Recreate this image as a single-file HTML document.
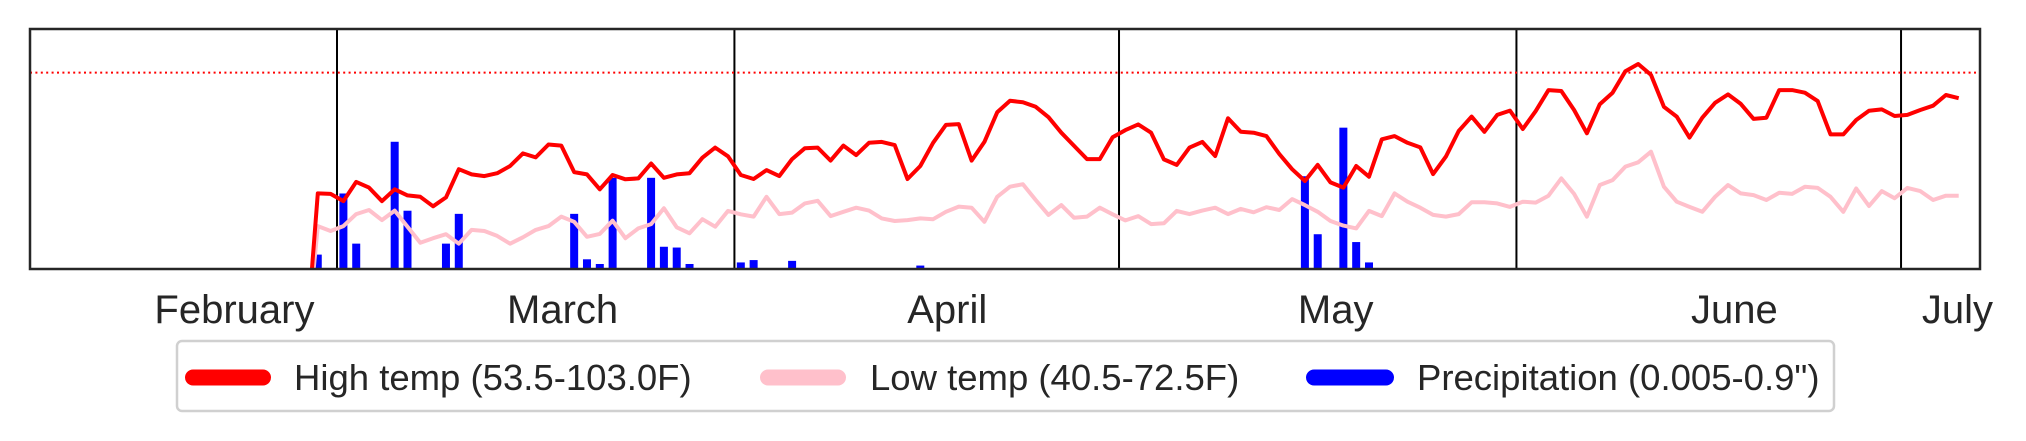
<!DOCTYPE html>
<html><head><meta charset="utf-8"><style>
html,body{margin:0;padding:0;background:#fff;width:2026px;height:441px;overflow:hidden}
svg text{font-family:"Liberation Sans",Arial,sans-serif;fill:#262626}
</style></head><body>
<svg id="chart" width="2026" height="441" viewBox="0 0 2026 441" xmlns="http://www.w3.org/2000/svg">
<defs><clipPath id="plotclip"><rect x="30" y="29" width="1950" height="240"/></clipPath></defs>
<rect x="0" y="0" width="2026" height="441" fill="#fff"/>
<g id="month-lines"></g>
<line id="threshold" x1="30" x2="1980" stroke="#ff0000" stroke-width="2" stroke-dasharray="2,3.4"/>
<g id="bars" clip-path="url(#plotclip)"></g>
<g clip-path="url(#plotclip)">
<polyline id="low-line" fill="none" stroke="#ffc0cb" stroke-width="4" stroke-linejoin="round"/>
<polyline id="high-line" fill="none" stroke="#ff0000" stroke-width="4" stroke-linejoin="round"/>
</g>
<rect x="30" y="29" width="1950" height="240" fill="none" stroke="#262626" stroke-width="2.5"/>
<g id="xticks"></g>
<g>
<rect x="177" y="341" width="1657" height="70" rx="5" fill="#fff" stroke="#d0d0d0" stroke-width="2.5"/>
<g>
<line x1="193" x2="263" y1="377.5" y2="377.5" stroke="#ff0000" stroke-width="16" stroke-linecap="round"/>
<text x="294" y="390" font-size="36.5">High temp (53.5-103.0F)</text>
</g>
<g>
<line x1="768" x2="838" y1="377.5" y2="377.5" stroke="#ffc0cb" stroke-width="16" stroke-linecap="round"/>
<text x="870" y="390" font-size="36.5">Low temp (40.5-72.5F)</text>
</g>
<g>
<line x1="1314" x2="1386" y1="377.5" y2="377.5" stroke="#0000ff" stroke-width="16" stroke-linecap="round"/>
<text x="1417" y="390" font-size="36.5">Precipitation (0.005-0.9")</text>
</g>
</g>
</svg>
<script>
// day index: 0 = March 1; first entry is day -3
const firstDay = -3;
const highTemps = [0,58.0,57.8,55.3,62.0,60.0,55.3,59.4,57.3,56.8,53.5,56.6,66.4,64.6,64.0,65.0,67.5,71.9,70.5,75.0,74.6,65.4,64.6,59.4,64.4,62.9,63.2,68.4,63.4,64.6,65.0,70.4,73.9,70.9,
64.4,63.0,66.1,64.0,69.9,73.7,73.9,69.4,74.6,71.3,75.6,75.9,74.8,63.0,67.5,75.6,81.8,82.1,69.4,75.9,86.2,90.2,89.7,88.1,84.5,79.1,74.5,69.9,69.9,77.5,
80.0,82.0,79.1,69.8,67.9,73.9,75.9,71.0,84.1,79.4,79.1,77.9,71.7,66.4,62.3,67.9,61.8,60.0,67.5,63.8,76.8,77.9,75.6,74.0,64.7,70.8,79.7,84.7,79.4,85.3,86.8,
80.4,86.6,93.9,93.6,87.0,78.9,89.0,93.0,100.5,103.0,99.2,88.1,84.7,77.4,84.3,89.5,92.4,89.1,83.9,84.3,93.9,93.9,93.0,90.1,78.5,78.5,83.5,86.7,87.2,84.9,
85.3,87.0,88.5,92.2,91.1];
const lowTemps = [0,46.6,44.9,46.6,50.8,52.2,48.7,52.0,46.4,40.8,42.4,43.8,40.5,45.3,44.9,43.2,40.5,42.7,45.3,46.6,49.9,48.1,42.9,43.9,48.5,42.4,45.8,47.3,52.8,46.2,44.1,49.0,46.4,51.9,
50.7,49.9,56.8,50.8,51.3,54.5,55.4,50.1,51.6,53.0,52.0,49.3,48.4,48.7,49.3,49.0,51.6,53.4,53.0,48.1,56.8,60.3,61.2,55.7,50.5,53.9,49.5,49.9,53.0,50.7,
48.6,50.1,47.3,47.6,51.9,50.8,52.0,53.0,50.8,52.6,51.4,53.2,52.2,56.0,53.9,51.6,48.4,46.8,45.8,51.9,50.1,58.0,55.1,53.0,50.5,49.9,50.8,54.9,54.9,54.5,53.3,
55.1,54.8,57.2,63.2,57.8,49.9,60.9,62.6,67.3,68.8,72.5,60.3,55.1,53.3,51.6,56.8,60.9,58.0,57.4,55.7,58.2,57.8,60.3,59.9,56.8,51.6,59.7,53.6,58.8,56.3,
59.9,58.8,55.7,57.2,57.2];
const precipDays = [-2,0,1,4,5,8,9,18,19,20,21,24,25,26,27,31,32,35,45,75,76,78,79,80];
const precipValues = [0.09,0.48,0.16,0.81,0.37,0.16,0.35,0.35,0.06,0.03,0.58,0.58,0.14,0.135,0.03,0.04,0.055,0.05,0.02,0.59,0.22,0.9,0.17,0.04];
const monthStartDays = [0,31,61,92,122];
const tickLabels = ["February","March","April","May","June","July"];
const tickDays = [-8.5,17.1,47.1,77.4,108.5,125.9];
const thresholdTemp = 100;

const NS = "http://www.w3.org/2000/svg";
function xDay(d){ return 343.4 + d*12.82; }
function xBoundary(d){ return 337 + d*12.82; }
function yTemp(v){ return 360.1 - v*2.875; }
function yPrecipHeight(p){ return p*156.7; }
const base = 268.7;

const mg = document.getElementById('month-lines');
monthStartDays.forEach(d => {
  const l = document.createElementNS(NS,'line');
  
  
  l.setAttribute('x1', xBoundary(d)); l.setAttribute('x2', xBoundary(d));
  l.setAttribute('y1', 29); l.setAttribute('y2', base);
  l.setAttribute('stroke', '#000'); l.setAttribute('stroke-width', '2');
  mg.appendChild(l);
});

const th = document.getElementById('threshold');
th.setAttribute('y1', yTemp(thresholdTemp)); th.setAttribute('y2', yTemp(thresholdTemp));

const bg = document.getElementById('bars');
precipDays.forEach((d,i) => {
  const h = yPrecipHeight(precipValues[i]);
  const r = document.createElementNS(NS,'rect');
  
  
  r.setAttribute('x', xDay(d)-4); r.setAttribute('width', 8);
  r.setAttribute('y', base-h); r.setAttribute('height', h);
  r.setAttribute('fill', '#0000ff');
  bg.appendChild(r);
});

function pts(arr){ return arr.map((v,i)=> xDay(firstDay+i).toFixed(1)+','+yTemp(v).toFixed(1)).join(' '); }
document.getElementById('high-line').setAttribute('points', pts(highTemps));
document.getElementById('low-line').setAttribute('points', pts(lowTemps));

const tg = document.getElementById('xticks');
tickLabels.forEach((lab,i) => {
  const t = document.createElementNS(NS,'text');
  
  
  t.setAttribute('x', xDay(tickDays[i])); t.setAttribute('y', 323);
  t.setAttribute('text-anchor', 'middle'); t.setAttribute('font-size', '40');
  t.textContent = lab;
  tg.appendChild(t);
});
</script>
</body></html>
